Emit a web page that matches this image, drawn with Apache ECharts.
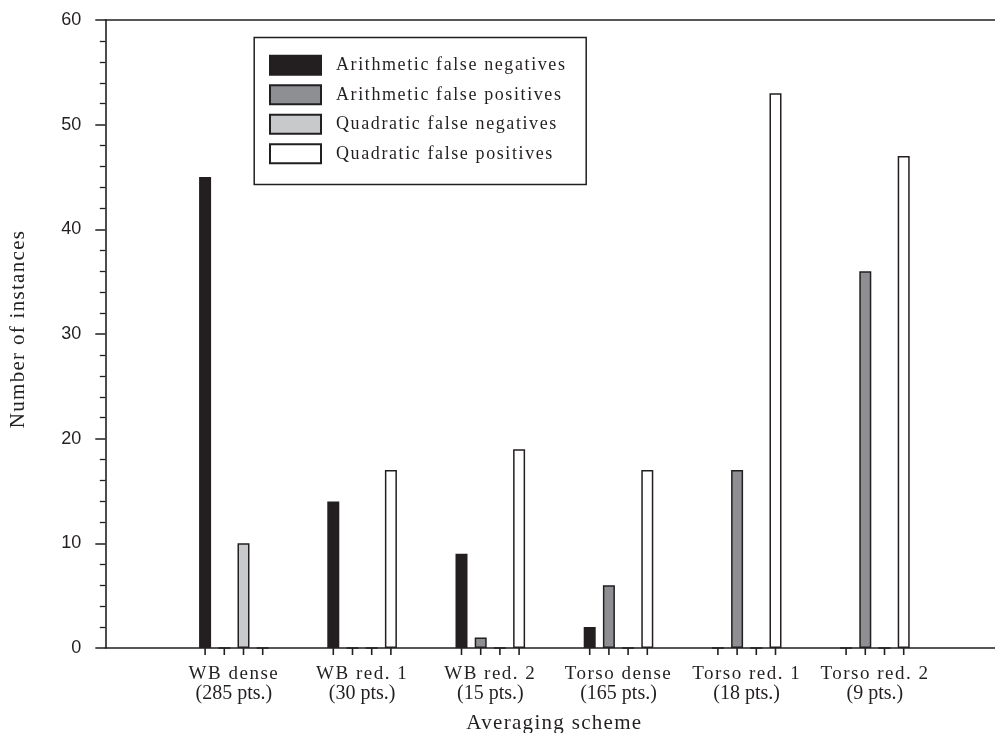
<!DOCTYPE html>
<html>
<head>
<meta charset="utf-8">
<script src="https://cdn.jsdelivr.net/npm/echarts@6/dist/echarts.min.js"></script>
<style>html,body{margin:0;padding:0;background:#fff;}#c{width:995px;height:733px;}</style>
</head>
<body>
<div id="c"></div>
<script>
// ---- data ----
const categories = ['WB dense\n(285 pts.)', 'WB red. 1\n(30 pts.)', 'WB red. 2\n(15 pts.)', 'Torso dense\n(165 pts.)', 'Torso red. 1\n(18 pts.)', 'Torso red. 2\n(9 pts.)'];
const seriesNames = ['Arithmetic false negatives', 'Arithmetic false positives', 'Quadratic false negatives', 'Quadratic false positives'];
const arithFalseNeg = [45, 14, 9, 2, 0, 0];
const arithFalsePos = [0, 0, 1, 6, 17, 36];
const quadFalseNeg  = [10, 0, 0, 0, 0, 0];
const quadFalsePos  = [0, 17, 19, 17, 53, 47];
const yMin = 0, yMax = 60, yInterval = 10;
const xTitle = 'Averaging scheme';
const yTitle = 'Number of instances';

// ---- styling ----
const INK = '#231f20';
const colors = [INK, '#8e8f93', '#c8c9cb', '#ffffff'];
const SERIF = '"Liberation Serif", "Times New Roman", serif';
const SANS = '"Liberation Sans", Arial, sans-serif';

// tracking (letter spacing) of the serif texts, by font size
const tracking = {18: '1.6px', 19: '1.5px', 21: '1.3px'};
(function () {
  const proto = CanvasRenderingContext2D.prototype;
  const desc = Object.getOwnPropertyDescriptor(proto, 'font');
  if (!desc || !('letterSpacing' in proto)) return;
  Object.defineProperty(proto, 'font', {
    configurable: true,
    get: function () { return desc.get.call(this); },
    set: function (v) {
      desc.set.call(this, v);
      let ls = '0px';
      if (/Serif/.test(v)) {
        const m = /(\d+(?:\.\d+)?)px/.exec(v);
        if (m && tracking[m[1]]) ls = tracking[m[1]];
      }
      this.letterSpacing = ls;
    }
  });
})();

const seriesData = [arithFalseNeg, arithFalsePos, quadFalseNeg, quadFalsePos];
const tickOffsets = [-28.8, -9.6, 9.6, 28.8];
const baseline = categories.map(() => yMin);

const chart = echarts.init(document.getElementById('c'), null, {renderer: 'canvas'});

const bars = seriesData.map((d, i) => ({
  name: seriesNames[i],
  type: 'bar',
  xAxisIndex: 2, yAxisIndex: 1,
  data: d,
  barWidth: 12,
  barGap: '60%',
  itemStyle: {color: colors[i], borderColor: INK, borderWidth: 1.5},
  emphasis: {disabled: true},
  silent: true,
  z: 3
}));
const ticks = tickOffsets.map((dx) => ({
  type: 'scatter',
  xAxisIndex: 2, yAxisIndex: 1,
  data: baseline,
  symbol: 'rect',
  symbolSize: [1.6, 7],
  symbolOffset: [dx, 3.5],
  itemStyle: {color: INK, opacity: 1},
  clip: false,
  silent: true,
  z: 4
}));

chart.setOption({
  animation: false,
  backgroundColor: '#fff',
  grid: [
    {left: 105.3, right: 0, top: 20, bottom: 85, outerBoundsMode: 'none', containLabel: false},
    {left: 169.8, right: 56, top: 20, bottom: 85, outerBoundsMode: 'none', containLabel: false}
  ],
  xAxis: [
    {type: 'value', gridIndex: 0, min: 0, max: 1, position: 'bottom',
     axisLine: {show: true, lineStyle: {color: INK, width: 1.6}},
     axisTick: {show: false}, axisLabel: {show: false}, splitLine: {show: false}},
    {type: 'value', gridIndex: 0, min: 0, max: 1, position: 'top',
     axisLine: {show: true, lineStyle: {color: INK, width: 1.6}},
     axisTick: {show: false}, axisLabel: {show: false}, splitLine: {show: false}},
    {type: 'category', gridIndex: 1, data: categories, position: 'bottom',
     axisLine: {show: false}, axisTick: {show: false}, splitLine: {show: false},
     axisLabel: {
       color: INK, margin: 16, interval: 0,
       formatter: function (v) { const p = v.split('\n'); return '{a|' + p[0] + '}\n{b|' + p[1] + '}'; },
       rich: {
         a: {fontFamily: SERIF, fontSize: 19, lineHeight: 20, color: INK},
         b: {fontFamily: SERIF, fontSize: 20, lineHeight: 20, color: INK}
       }
     },
     name: xTitle, nameLocation: 'middle', nameGap: 64,
     nameTextStyle: {color: INK, fontFamily: SERIF, fontSize: 21}}
  ],
  yAxis: [
    {type: 'value', gridIndex: 0, min: yMin, max: yMax, interval: yInterval,
     axisLine: {show: true, lineStyle: {color: INK, width: 1.6}},
     axisTick: {show: true, inside: false, length: 10, lineStyle: {color: INK, width: 1.5}},
     minorTick: {show: true, splitNumber: 5, length: 5.5, lineStyle: {color: INK, width: 1.3}},
     splitLine: {show: false}, minorSplitLine: {show: false},
     axisLabel: {color: INK, fontFamily: SANS, fontSize: 18, margin: 24},
     name: yTitle, nameLocation: 'middle', nameGap: 76, nameRotate: 90,
     nameTextStyle: {color: INK, fontFamily: SERIF, fontSize: 21, padding: [0, 0, 0, 10]}},
    {type: 'value', gridIndex: 1, min: yMin, max: yMax, interval: yInterval, show: false,
     splitLine: {show: false}}
  ],
  legend: {
    data: seriesNames,
    orient: 'vertical',
    left: 269, top: 54.8,
    padding: 0,
    icon: 'rect',
    itemWidth: 51, itemHeight: 19, itemGap: 8.5,
    selectedMode: false,
    textStyle: {color: INK, fontFamily: SERIF, fontSize: 18, lineHeight: 19, padding: [0, 0, 0, 10]}
  },
  graphic: [
    {type: 'rect', left: 251.7, top: 35, shape: {width: 332, height: 147},
     style: {fill: 'none', stroke: INK, lineWidth: 1.5}, z: 10, silent: true}
  ],
  series: bars.concat(ticks)
});
</script>
</body>
</html>
